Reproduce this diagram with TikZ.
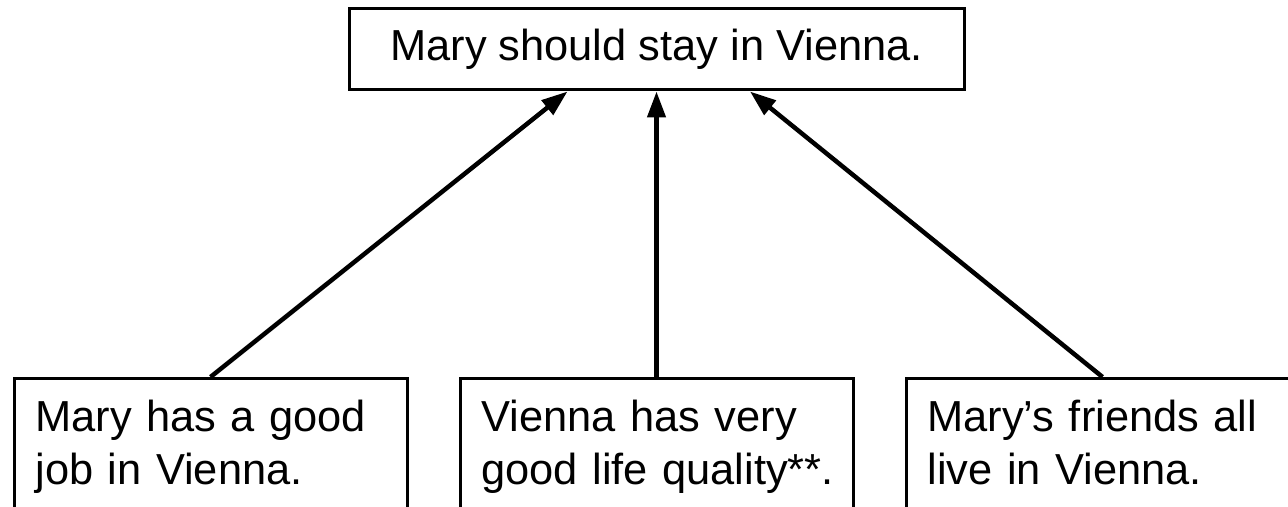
\documentclass[tikz,border=0pt]{standalone}
\usepackage{fontspec}
\setmainfont{Liberation Sans}
\usetikzlibrary{arrows.meta, calc}

\begin{document}
\begin{tikzpicture}[
    claim/.style={draw, line width=0.06cm, minimum height=1.62cm, minimum width=12.3cm, font=\fontsize{24.7pt}{30.2pt}\selectfont},
    reason/.style={draw, line width=0.06cm, anchor=north, inner xsep=0pt, inner ysep=0pt, text width=7.86cm, align=left, text height=1.06cm, text depth=3cm, font=\fontsize{24.7pt}{30.2pt}\selectfont, execute at begin node={\leftskip=0.43cm}},
    support/.style={->, >={Triangle[length=0.52cm, width=0.36cm]}, line width=0.09cm}]
      \useasboundingbox (0,0) rectangle (25.76,10.14);
      \clip (0,0) rectangle (25.76,10.14);

      \node[claim] (stay) at (13.13, 9.15) {Mary should stay in Vienna.};

      \node[reason] (job)     at ( 4.21, 2.60) {Mary has a good\\job in Vienna.};
      \node[reason] (life)    at (13.13, 2.60) {Vienna has very\\good life quality**.};
      \node[reason] (friends) at (22.05, 2.60) {Mary’s friends all\\live in Vienna.};

      \draw[support] (job.north)     -- ($(stay.south)+(-1.78,0)$);
      \draw[support] (life.north)    -- (stay.south);
      \draw[support] (friends.north) -- ($(stay.south)+( 1.87,0)$);
    \end{tikzpicture}
\end{document}
